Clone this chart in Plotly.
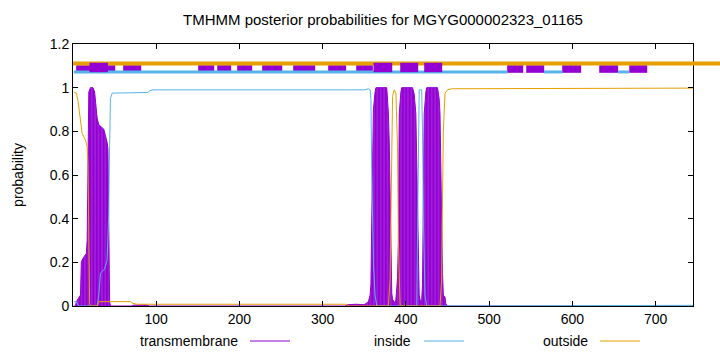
import plotly.graph_objects as go

# ---------------- data ----------------
title_text = "TMHMM posterior probabilities for MGYG000002323_01165"
seq_len = 745

tm_x = [1, 3, 4, 7, 9, 10, 11, 14, 16, 17, 18, 19, 21, 24, 26, 28, 29, 31, 34, 37, 39, 41, 42, 43, 44, 45,
        70, 73, 80, 88, 92, 327, 330, 340, 350, 355, 357, 358, 359, 360, 361, 363, 364, 377, 378, 379, 380,
        381, 382, 383, 384, 386, 387, 388, 389, 390, 391, 392, 394, 395, 408, 410, 412, 413, 414, 415, 416,
        418, 419, 420, 421, 422, 424, 425, 438, 440, 441, 442, 443, 444, 445, 447, 448, 450, 745]
tm_y = [0, 0, 0.02, 0.04, 0.05, 0.2, 0.21, 0.23, 0.24, 0.3, 0.9, 0.98, 1.0, 1.0, 0.98, 0.9, 0.86, 0.83, 0.82,
        0.81, 0.78, 0.75, 0.72, 0.3, 0.02, 0,
        0, 0.004, 0.006, 0.005, 0, 0, 0.006, 0.008, 0.006, 0.02, 0.05, 0.1, 0.4, 0.8, 0.9, 0.98, 1.0, 1.0, 0.95,
        0.88, 0.75, 0.58, 0.3, 0.06, 0.03, 0.02, 0.0, 0.03, 0.09, 0.13, 0.3, 0.88, 0.98, 1.0, 1.0, 0.97, 0.88,
        0.65, 0.43, 0.2, 0.05, 0.01, 0.03, 0.1, 0.5, 0.88, 0.98, 1.0, 1.0, 0.95, 0.88, 0.6, 0.43, 0.15, 0.05,
        0.04, 0.01, 0, 0]

inside_x = [1, 4, 6, 8, 29, 31, 33, 36, 38, 41, 42, 43, 44, 45, 47, 90, 92, 95, 350, 355, 357, 358, 359, 361,
            363, 365, 413, 414, 415, 416, 419, 420, 421, 423, 425, 620, 630, 745]
inside_y = [0.02, 0.02, 0.005, 0, 0, 0.05, 0.15, 0.16, 0.17, 0.21, 0.3, 0.43, 0.73, 0.95, 0.975, 0.978, 0.985,
            0.99, 0.99, 0.995, 0.99, 0.95, 0.6, 0.2, 0.05, 0, 0, 0.3, 0.85, 0.99, 0.99, 0.8, 0.4, 0.05, 0, 0,
            0.003, 0.003]

outside_x = [1, 4, 6, 8, 9.6, 11, 15, 17, 18, 19, 20, 21, 29, 31, 69, 72, 77, 328, 330, 332, 379, 380, 381,
             382, 383, 384, 386, 388, 389, 390, 391, 392, 393, 441, 442, 443, 444, 445, 447, 450, 455, 745]
outside_y = [0.98, 0.975, 0.94, 0.88, 0.82, 0.79, 0.76, 0.73, 0.65, 0.27, 0.01, 0, 0, 0.02, 0.02, 0.012, 0.008,
             0.008, 0.002, 0, 0, 0.05, 0.12, 0.4, 0.65, 0.96, 0.99, 0.975, 0.85, 0.73, 0.3, 0.05, 0, 0, 0.05,
             0.12, 0.5, 0.8, 0.975, 0.99, 0.995, 0.998]

# topology bar at the top
tm_box_start = [19.8, 361.1, 393.2, 422.0]
tm_box_end = [41.9, 383.6, 414.8, 443.6]
dash_box_start = [3.8, 60.3, 150.4, 173.3, 197.3, 227.3, 264.6, 306.6, 340.3, 521.7, 544.6, 587.8, 632.3, 668.4]
dash_box_end = [50.7, 82.0, 169.7, 190.1, 215.3, 251.4, 291.0, 328.2, 360.3, 541.0, 566.2, 610.6, 655.0, 690.0]
inside_seg_start = [1, 566, 655]
inside_seg_end = [522, 588, 668]

x_ticks = [100, 200, 300, 400, 500, 600, 700]
y_ticks = [0, 0.2, 0.4, 0.6, 0.8, 1.0, 1.2]
y_tick_text = ["0", "0.2", "0.4", "0.6", "0.8", "1", "1.2"]
legend_names = ["transmembrane", "inside", "outside"]

# ---------------- style ----------------
PURPLE = "#9400d3"
BLUE = "#56b4e9"
ORANGE = "#e69f00"
FONT = "Liberation Sans"
FS = 14

L, R, T, B = 73, 27, 44, 46
W, H = 720, 352
PW, PH = W - L - R, H - T - B

fig = go.Figure()

fig.add_trace(go.Scatter(
    x=tm_x, y=tm_y, mode="lines", line=dict(color=PURPLE, width=1),
    fill="tozeroy", fillcolor=PURPLE,
    fillpattern=dict(shape="|", bgcolor=PURPLE, fgcolor="#b764e8", size=3.4, solidity=0.3),
    showlegend=False, hoverinfo="skip"))
fig.add_trace(go.Scatter(x=inside_x, y=inside_y, mode="lines", line=dict(color=BLUE, width=1),
                         showlegend=False))
fig.add_trace(go.Scatter(x=outside_x, y=outside_y, mode="lines", line=dict(color=ORANGE, width=1),
                         showlegend=False))

shapes = []
# short purple boxes (under the orange line)
for s, e in zip(dash_box_start, dash_box_end):
    shapes.append(dict(type="rect", xref="x", yref="y", x0=s, x1=e, y0=1.068, y1=1.103,
                       fillcolor=PURPLE, line=dict(width=0), layer="above"))
# blue inside line
for s, e in zip(inside_seg_start, inside_seg_end):
    shapes.append(dict(type="line", xref="x", yref="y", x0=s, x1=e, y0=1.072, y1=1.072,
                       line=dict(color=BLUE, width=3), layer="above"))
# orange outside line, extends past plot to right edge
shapes.append(dict(type="line", xref="paper", yref="y", x0=0, x1=(W - L) / PW + 0.01, y0=1.111, y1=1.111,
                   line=dict(color=ORANGE, width=4), layer="above"))
# tall TM boxes
for s, e in zip(tm_box_start, tm_box_end):
    shapes.append(dict(type="rect", xref="x", yref="y", x0=s, x1=e, y0=1.071, y1=1.114,
                       fillcolor=PURPLE, line=dict(width=0), layer="above"))

# legend (gnuplot style: text then sample line)
legend_text_right = [240, 413, 590]
legend_line_x0 = [250, 424, 600]
legend_colors = [PURPLE, BLUE, ORANGE]
legend_py = 341
annotations = []
for name, tr, lx, c in zip(legend_names, legend_text_right, legend_line_x0, legend_colors):
    annotations.append(dict(text=name, xref="paper", yref="paper", x=(tr - L) / PW, y=(H - B - legend_py) / PH,
                            xanchor="right", yanchor="middle", showarrow=False,
                            font=dict(family=FONT, size=FS, color="black")))
    shapes.append(dict(type="line", xref="paper", yref="paper", x0=(lx - L) / PW, x1=(lx + 40 - L) / PW,
                       y0=(H - B - legend_py) / PH, y1=(H - B - legend_py) / PH,
                       line=dict(color=c, width=1)))

fig.update_layout(
    width=W, height=H, margin=dict(l=L, r=R, t=T, b=B),
    paper_bgcolor="white", plot_bgcolor="white",
    title=dict(text=title_text, x=383 / W, xanchor="center", y=1 - 20 / H, yanchor="middle",
               font=dict(family=FONT, size=15, color="black")),
    font=dict(family=FONT, size=FS, color="black"),
    shapes=shapes, annotations=annotations, showlegend=False,
    xaxis=dict(range=[0, seq_len], tickvals=x_ticks, ticks="inside", ticklen=5, tickcolor="black",
               showline=True, linecolor="black", linewidth=1, mirror="ticks", showgrid=False,
               zeroline=False, tickfont=dict(family=FONT, size=FS)),
    yaxis=dict(range=[0, 1.2], tickvals=y_ticks, ticktext=y_tick_text,
               ticks="inside", ticklen=5, tickcolor="black",
               showline=True, linecolor="black", linewidth=1, mirror="ticks", showgrid=False,
               zeroline=False, tickfont=dict(family=FONT, size=FS),
               title=dict(text="probability", font=dict(family=FONT, size=FS), standoff=22)),
)

fig.write_html("out.html")
